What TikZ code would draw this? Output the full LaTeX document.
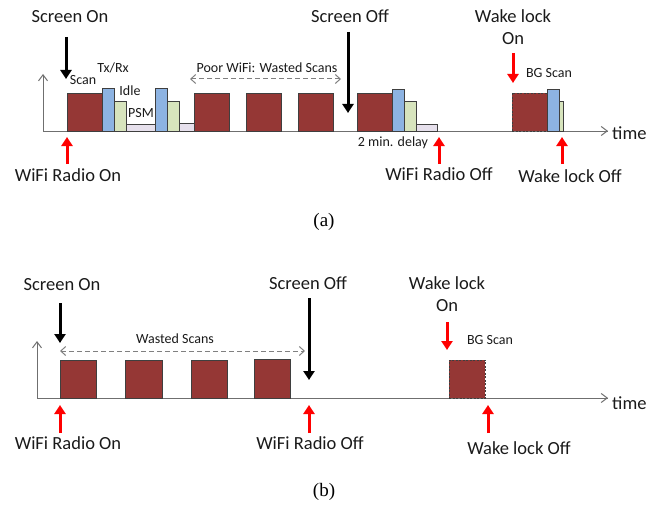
\documentclass[tikz,border=0pt]{standalone}
\usepackage{fontspec}
\setmainfont{Carlito}
\newfontfamily\capfont{Liberation Serif}
\usetikzlibrary{arrows.meta}

\definecolor{scanred}{HTML}{953735}
\definecolor{txblue}{HTML}{8DB3E2}
\definecolor{idlegreen}{HTML}{D7E4BD}
\definecolor{psmlav}{HTML}{E6E0EC}
\definecolor{edgegray}{HTML}{3F3F3F}
\definecolor{axisgray}{HTML}{6F6F6F}
\definecolor{txtgray}{HTML}{1A1A1A}

\tikzset{
  blockbase/.style={draw=edgegray, line width=0.8pt, inner sep=0pt, outer sep=0pt, anchor=south west},
  scanblk/.style={blockbase, fill=scanred},
  bgblk/.style={blockbase, fill=scanred, dashed, dash pattern=on 2pt off 1.5pt},
  txblk/.style={blockbase, fill=txblue},
  idleblk/.style={blockbase, fill=idlegreen},
  psmblk/.style={blockbase, fill=psmlav},
  biglabel/.style={font=\fontsize{18.5}{20}\selectfont, text=txtgray, inner sep=0pt},
  smalllabel/.style={font=\fontsize{14}{16}\selectfont, text=txtgray, inner sep=0pt},
  caplabel/.style={font=\capfont\fontsize{19}{21}\selectfont, inner sep=0pt},
  axisline/.style={draw=axisgray, line width=1pt},
  axisarrow/.style={axisline, -{Straight Barb[length=6pt, width=9pt]}},
  blackarrow/.style={draw=black, line width=3pt, -{Triangle[length=9pt, width=11pt]}, shorten >=-2pt},
  redarrow/.style={draw=red, line width=3pt, -{Triangle[length=9pt, width=11pt]}, shorten >=-2pt},
  spanarrow/.style={draw=gray, line width=1pt, dashed, dash pattern=on 5pt off 3pt,
    {Straight Barb[length=5pt, width=9pt]}-{Straight Barb[length=5pt, width=9pt]}},
}

% block: x-left, x-right, top, baseline, style, name
\newcommand\blk[6]{%
  \node[#5, minimum width={#2-#1}, minimum height={#4-#3}] (#6) at (#1,#4) {};}

\begin{document}
\begin{tikzpicture}[x=1pt, y=-1pt]
\useasboundingbox (0,0) rectangle (670,511);

% ---------------- panel (a) ----------------
\coordinate (a0) at (43,131);
\coordinate (atop) at (43,74);
\coordinate (aend) at (608,131);
\draw[axisline] (a0) -- (aend);
\draw[axisarrow] (a0) -- (atop);
\draw[axisarrow] (a0) -- (aend);
\node[biglabel, anchor=west] (atime) at (612,133) {time};

\blk{67}{102}{93}{131}{scanblk}{as1}
\blk{102}{114}{88}{131}{txblk}{at1}
\blk{114}{126}{101}{131}{idleblk}{ai1}
\blk{126}{155}{124}{131}{psmblk}{ap1}
\blk{155}{167}{88}{131}{txblk}{at2}
\blk{167}{179}{101}{131}{idleblk}{ai2}
\blk{179}{194}{123}{131}{psmblk}{ap2}
\blk{194}{229}{93}{131}{scanblk}{as2}
\blk{246}{281}{93}{131}{scanblk}{as3}
\blk{298}{333}{93}{131}{scanblk}{as4}
\blk{357}{392}{93}{131}{scanblk}{as5}
\blk{392}{404}{89}{131}{txblk}{at3}
\blk{404}{416}{101}{131}{idleblk}{ai3}
\blk{416}{437}{124}{131}{psmblk}{ap3}
\blk{512}{547}{93}{131}{bgblk}{abg}
\blk{547}{559}{89}{131}{txblk}{at4}
\blk{559}{563}{101}{131}{idleblk}{ai4}

\node[smalllabel] (lscan) at (83,80) {Scan};
\node[smalllabel] (ltx) at (113,68) {Tx/Rx};
\node[smalllabel] (lidle) at (130,91) {Idle};
\node[smalllabel] (lpsm) at (141,113) {PSM};
\node[smalllabel] (lpoor) at (267,68) {Poor WiFi: Wasted Scans};
\coordinate (pl) at (190,79);
\coordinate (pr) at (341,79);
\draw[spanarrow] (pl) -- (pr);
\node[smalllabel] (ldelay) at (393,143) {2 min. delay};
\node[smalllabel] (lbga) at (549,73) {BG Scan};

\node[biglabel] (son) at (70,17) {Screen On};
\coordinate (sona) at (66,37);
\coordinate (sonb) at (66,77);
\draw[blackarrow] (sona) -- (sonb);

\node[biglabel] (soff) at (350,16) {Screen Off};
\coordinate (soffa) at (348,32);
\coordinate (soffb) at (348,111);
\draw[blackarrow] (soffa) -- (soffb);

\node[biglabel] (wl) at (513,16) {Wake lock};
\node[biglabel] (wlon) at (513,39) {On};
\coordinate (wla) at (513,53);
\coordinate (wlb) at (513,81);
\draw[redarrow] (wla) -- (wlb);

\node[biglabel] (ron) at (68,175) {WiFi Radio On};
\coordinate (rona) at (67,164);
\coordinate (ronb) at (67,139);
\draw[redarrow] (rona) -- (ronb);

\node[biglabel] (roff) at (439,174) {WiFi Radio Off};
\coordinate (roffa) at (439,164);
\coordinate (roffb) at (439,139);
\draw[redarrow] (roffa) -- (roffb);

\node[biglabel] (wloff) at (570,176) {Wake lock Off};
\coordinate (wloffa) at (562,164);
\coordinate (wloffb) at (562,139);
\draw[redarrow] (wloffa) -- (wloffb);

\node[caplabel] (capa) at (324,222) {(a)};

% ---------------- panel (b) ----------------
\coordinate (b0) at (37,398);
\coordinate (btop) at (37,341);
\coordinate (bend) at (608,398);
\draw[axisline] (b0) -- (bend);
\draw[axisarrow] (b0) -- (btop);
\draw[axisarrow] (b0) -- (bend);
\node[biglabel, anchor=west] (btime) at (612,403) {time};

\blk{60}{96}{360}{398}{scanblk}{bs1}
\blk{125}{162}{360}{398}{scanblk}{bs2}
\blk{191}{227}{360}{398}{scanblk}{bs3}
\blk{254}{290}{359}{398}{scanblk}{bs4}
\blk{449}{485}{360}{398}{bgblk}{bbg}

\node[smalllabel] (lwaste) at (175,339) {Wasted Scans};
\coordinate (wl1) at (60,351);
\coordinate (wl2) at (305,351);
\draw[spanarrow] (wl1) -- (wl2);
\node[smalllabel] (lbgb) at (490,340) {BG Scan};

\node[biglabel] (bson) at (62,285) {Screen On};
\coordinate (bsona) at (60,303);
\coordinate (bsonb) at (60,341);
\draw[blackarrow] (bsona) -- (bsonb);

\node[biglabel] (bsoff) at (308,283) {Screen Off};
\coordinate (bsoffa) at (309,298);
\coordinate (bsoffb) at (309,378);
\draw[blackarrow] (bsoffa) -- (bsoffb);

\node[biglabel] (bwl) at (447,283) {Wake lock};
\node[biglabel] (bwlon) at (447,306) {On};
\coordinate (bwla) at (447,322);
\coordinate (bwlb) at (447,348);
\draw[redarrow] (bwla) -- (bwlb);

\node[biglabel] (bron) at (68,443) {WiFi Radio On};
\coordinate (brona) at (60,433);
\coordinate (bronb) at (60,407);
\draw[redarrow] (brona) -- (bronb);

\node[biglabel] (broff) at (310,443) {WiFi Radio Off};
\coordinate (broffa) at (309,433);
\coordinate (broffb) at (309,407);
\draw[redarrow] (broffa) -- (broffb);

\node[biglabel] (bwloff) at (519,448) {Wake lock Off};
\coordinate (bwloffa) at (488,433);
\coordinate (bwloffb) at (488,407);
\draw[redarrow] (bwloffa) -- (bwloffb);

\node[caplabel] (capb) at (324,492) {(b)};
\end{tikzpicture}
\end{document}
